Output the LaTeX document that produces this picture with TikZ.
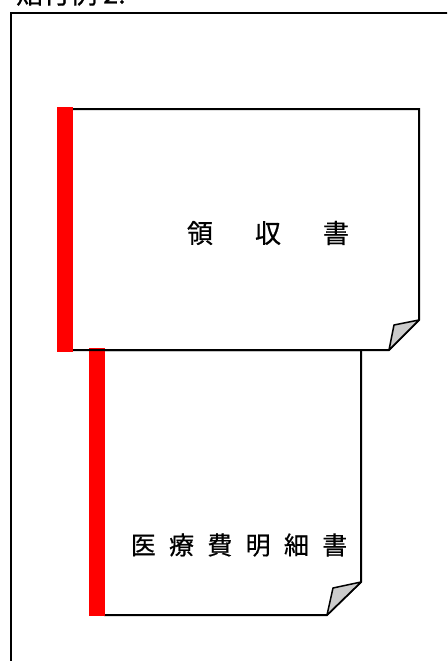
\documentclass[tikz,border=0pt]{standalone}
\usepackage{fontspec}
\newfontfamily\jpfont[FakeBold=0.6]{Noto Sans CJK JP}
\begin{document}
\begin{tikzpicture}[x=1pt,y=-1pt,
  docline/.style={line width=2pt,line join=miter},
  foldface/.style={fill=black!20,draw=black,line width=1.5pt,line join=round},
  redbar/.style={fill=red,draw=none},
  label/.style={inner sep=0pt,font=\jpfont}]
\useasboundingbox (0,0) rectangle (447,661);
\clip (0,0) rectangle (447,661);
\fill[white] (0,0) rectangle (447,661);
% title (cut off at the top)
\node[label,anchor=base west,font=\jpfont\fontsize{27pt}{27pt}\selectfont] (title) at (16,3.5) {貼付例 2.};
% outer frame
\draw[line width=2pt] (460,13) -- (11,13) -- (11,680);
% document 2
\coordinate (d2tl) at (104,350);
\coordinate (d2tr) at (361,350);
\coordinate (d2c) at (361,582);
\coordinate (d2b) at (327,615);
\coordinate (d2bl) at (104,615);
\coordinate (d2f) at (333,588);
\draw[docline] (d2tl) -- (d2tr) -- (d2c) -- (d2b) -- (d2bl);
\draw[foldface] (d2c) -- (d2f) -- (d2b) -- cycle;
\fill[redbar] (89,348) rectangle (105,616);
% document 1
\coordinate (d1tl) at (73,109);
\coordinate (d1tr) at (419,109);
\coordinate (d1c) at (419,320);
\coordinate (d1b) at (389,350);
\coordinate (d1bl) at (73,350);
\coordinate (d1f) at (394,325);
\draw[docline] (d1tl) -- (d1tr) -- (d1c) -- (d1b) -- (d1bl);
\draw[foldface] (d1c) -- (d1f) -- (d1b) -- cycle;
\fill[redbar] (57,107) rectangle (73,352);
% labels
\node[label,font=\jpfont\fontsize{26pt}{26pt}\selectfont] (t1) at (268,233) {領\hspace{42pt}収\hspace{42pt}書};
\node[label,font=\jpfont\fontsize{25pt}{25pt}\selectfont] (t2) at (239,545) {医\hspace{13.3pt}療\hspace{13.3pt}費\hspace{13.3pt}明\hspace{13.3pt}細\hspace{13.3pt}書};
\end{tikzpicture}
\end{document}
